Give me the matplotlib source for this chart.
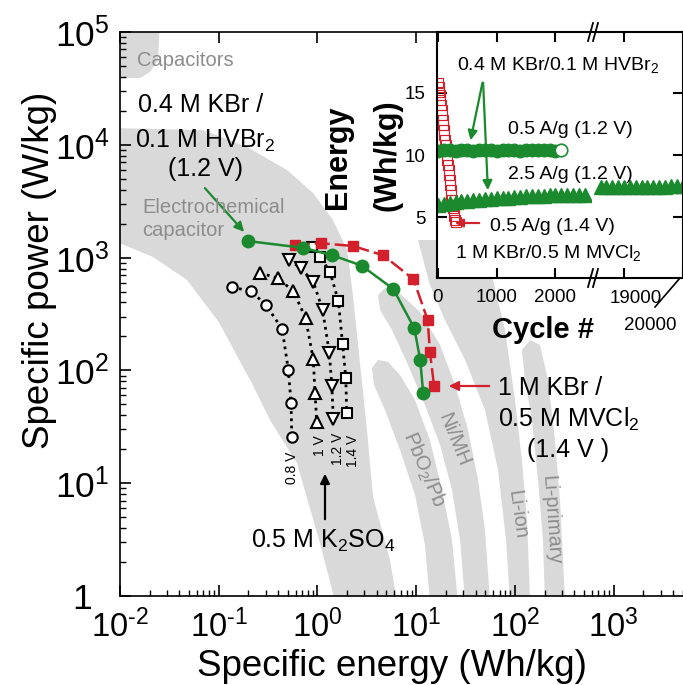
import numpy as np
import matplotlib
matplotlib.use('Agg')
import matplotlib.pyplot as plt
from matplotlib.lines import Line2D
from matplotlib.ticker import LogLocator, NullFormatter

plt.rcParams['font.family'] = ['Liberation Sans', 'DejaVu Sans']
plt.rcParams['mathtext.fontset'] = 'custom'
plt.rcParams['mathtext.rm'] = 'Liberation Sans'
plt.rcParams['mathtext.it'] = 'Liberation Sans:italic'
plt.rcParams['mathtext.bf'] = 'Liberation Sans:bold'

W, H = 683, 685

GREEN = '#1b8a2f'
RED = '#d2202c'
GRAY = '#d9d9d9'
GRAYTXT = '#8c8c8c'

# ---------------------------------------------------------------------------
# Ragone data: specific energy (Wh/kg) / specific power (W/kg)
# ---------------------------------------------------------------------------
hvbr_energy = [0.20, 0.72, 1.41, 2.80, 5.87, 9.6, 11.0, 11.8]
hvbr_power = [1400, 1220, 1050, 850, 527, 236, 124, 63]

mvcl_energy = [0.59, 1.10, 2.29, 4.65, 9.4, 13.1, 13.8, 15.2]
mvcl_power = [1306, 1339, 1267, 1048, 642, 280, 146, 73]

k2so4_08_energy = [0.136, 0.212, 0.301, 0.440, 0.507, 0.541, 0.550]
k2so4_08_power = [545, 506, 380, 233, 101, 51.7, 25.5]
k2so4_10_energy = [0.262, 0.396, 0.570, 0.760, 0.908, 0.946, 0.984]
k2so4_10_power = [735, 655, 506, 290, 125, 63.4, 35.1]
k2so4_12_energy = [0.519, 0.682, 0.908, 1.13, 1.32, 1.40, 1.45]
k2so4_12_power = [952, 804, 611, 343, 144, 72.8, 36.8]
k2so4_14_energy = [0.887, 1.06, 1.34, 1.63, 1.80, 1.94, 1.98]
k2so4_14_power = [1234, 1019, 750, 412, 170, 86, 42.2]

# background regions (outlines in Wh/kg, W/kg)
capacitor_e = [0.0079, 0.0254, 0.0243, 0.0201, 0.0160, 0.0079]
capacitor_p = [1.28e5, 1.28e5, 5.65e4, 4.42e4, 3.91e4, 3.91e4]

ec_e = [0.008, 0.0693, 0.194, 0.492, 0.902, 1.44, 2.0, 2.30, 2.70, 3.18, 3.66, 5.44, 6.4,
        1.51, 1.06, 0.621, 0.331, 0.222, 0.1, 0.0477, 0.0216, 0.008]
ec_p = [14100, 13500, 9550, 5980, 3740, 2150, 1170, 448, 116, 29.6, 7.55, 2.08, 0.9,
        0.9, 2.95, 15.1, 36.3, 74, 269, 633, 1012, 1450]

pb_e = [3.57, 4.11, 5.19, 6.87, 9.75, 13.8, 18.3, 23.1, 26.5, 13.8, 12.3, 9.75, 6.87, 4.84, 3.74]
pb_p = [105, 124, 119, 91, 54.7, 24.2, 8.71, 3.13, 0.9, 0.9, 2.83, 7.85, 19.7, 44.6, 74.3]

nimh_e = [4.11, 4.84, 6.56, 10.96, 17.5, 24.8, 33.6, 42.4, 49.9, 56.1,
          31.3, 27.9, 23.1, 17.5, 12.3, 8.28, 5.70, 4.31]
nimh_p = [466, 537, 495, 330, 168, 74.3, 29.6, 10.7, 3.85, 0.9,
          0.9, 3.13, 8.71, 21.8, 49.3, 112, 228, 343]

liion_e = [10.45, 35.2, 60.1, 79.6, 100.4, 118, 133, 143,
           89.4, 81.5, 67.6, 49.9, 31.3, 19.6, 13.8]
liion_p = [1432, 1432, 633, 228, 54.7, 16.1, 4.72, 0.9,
           0.9, 3.13, 13.1, 44.6, 124, 280, 571]

liprim_e = [118, 143, 180, 217, 255, 287, 308, 323, 202, 193, 172, 149, 127]
liprim_p = [152, 186, 168, 82.2, 24.2, 7.10, 2.08, 0.9, 0.9, 3.13, 10.7, 36.3, 82.2]

# ---------------------------------------------------------------------------
# Inset: cycling, energy (Wh/kg) vs cycle number
# ---------------------------------------------------------------------------
cyc_a = [0, 100, 200, 300, 400, 500, 600, 700, 800, 900, 1000, 1100,
         1200, 1300, 1400, 1500, 1600, 1700, 1800, 1900, 2000, 2100]
en_a = [10.3, 10.4, 10.4, 10.3, 10.4, 10.4, 10.3, 10.4, 10.4, 10.4, 10.3,
        10.4, 10.4, 10.4, 10.3, 10.4, 10.4, 10.4, 10.4, 10.4, 10.3, 10.4]

cyc_b = [0, 100, 200, 300, 400, 500, 600, 700, 800, 900, 1000, 1100, 1200,
         1300, 1400, 1500, 1600, 1700, 1800, 1900, 2000, 2100, 2200, 2300, 2400, 2500]
en_b = [5.95, 6.05, 6.12, 6.20, 6.26, 6.31, 6.35, 6.39, 6.42, 6.46, 6.50, 6.53, 6.56,
        6.60, 6.63, 6.66, 6.70, 6.72, 6.74, 6.76, 6.77, 6.78, 6.79, 6.80, 6.81, 6.82]
cyc_b2 = [18600, 18700, 18800, 18900, 19000, 19100, 19200, 19300, 19400,
          19500, 19600, 19700, 19800, 19900, 20000]
en_b2 = [7.40, 7.41, 7.41, 7.42, 7.43, 7.43, 7.44, 7.44, 7.45, 7.45,
         7.46, 7.46, 7.47, 7.47, 7.48]

cyc_c = [0, 10, 20, 30, 40, 50, 60, 70, 80, 90, 100, 110, 120, 130, 140, 150,
         160, 170, 180, 190, 200, 210, 220, 230, 240, 250, 260, 270, 280, 290, 300]
en_c = [15.8, 15.5, 15.1, 14.8, 14.4, 14.0, 13.6, 13.2, 12.8, 12.4, 12.0, 11.6,
        11.2, 10.8, 10.4, 10.0, 9.6, 9.2, 8.8, 8.4, 8.0, 7.6, 7.2, 6.8, 6.4,
        6.0, 5.7, 5.4, 5.1, 4.8, 4.6]


def fx(x):
    return x / W


def fy(y):
    return 1 - y / H


fig = plt.figure(figsize=(W / 100, H / 100), dpi=100)

# ---------------------------- main Ragone axes -----------------------------
ax = fig.add_axes([fx(120), fy(596), fx(W - 120), (596 - 32) / H])
ax.set_xscale('log')
ax.set_yscale('log')

for e, p in [(capacitor_e, capacitor_p), (ec_e, ec_p), (pb_e, pb_p),
             (nimh_e, nimh_p), (liion_e, liion_p), (liprim_e, liprim_p)]:
    ax.fill(e, p, color=GRAY, lw=0, zorder=0)

dot = (0, (1, 1.6))
ax.plot(k2so4_08_energy, k2so4_08_power, ls=dot, color='black', lw=2,
        marker='o', ms=7.5, mfc='white', mec='black', mew=1.5)
ax.plot(k2so4_10_energy, k2so4_10_power, ls=dot, color='black', lw=2,
        marker='^', ms=9, mfc='white', mec='black', mew=1.5)
ax.plot(k2so4_12_energy, k2so4_12_power, ls=dot, color='black', lw=2,
        marker='v', ms=9, mfc='white', mec='black', mew=1.5)
ax.plot(k2so4_14_energy, k2so4_14_power, ls=dot, color='black', lw=2,
        marker='s', ms=7.5, mfc='white', mec='black', mew=1.5)

ax.plot(mvcl_energy, mvcl_power, color=RED, lw=1.8, dashes=(6, 2),
        marker='s', ms=7.5, mfc=RED, mec=RED)
ax.plot(hvbr_energy, hvbr_power, color=GREEN, lw=1.8,
        marker='o', ms=9, mfc=GREEN, mec=GREEN)

ax.set_xlim(1e-2, 10 ** 3.704)
ax.set_ylim(1, 1e5)
ax.spines['right'].set_visible(False)
for s in ['left', 'bottom', 'top']:
    ax.spines[s].set_linewidth(1.2)

hy = '\u2010'
ax.set_xticks([1e-2, 1e-1, 1, 10, 100, 1000])
ax.set_xticklabels(['10$^{%s2}$' % hy, '10$^{%s1}$' % hy, '10$^{0}$', '10$^{1}$',
                    '10$^{2}$', '10$^{3}$'])
ax.set_yticks([1, 10, 100, 1e3, 1e4, 1e5])
ax.set_yticklabels(['1', '10$^{1}$', '10$^{2}$', '10$^{3}$', '10$^{4}$', '10$^{5}$'],
                   ha='center')
ax.xaxis.set_minor_locator(LogLocator(subs=np.arange(2, 10)))
ax.yaxis.set_minor_locator(LogLocator(subs=np.arange(2, 10)))
ax.xaxis.set_minor_formatter(NullFormatter())
ax.yaxis.set_minor_formatter(NullFormatter())
ax.tick_params(axis='x', which='major', direction='in', length=8, width=1.2,
               top=True, labelsize=23.5, pad=10)
ax.tick_params(axis='x', which='minor', direction='in', length=4, width=1.0)
ax.tick_params(axis='y', which='major', direction='in', length=8, width=1.2,
               labelsize=25.5, pad=27)
ax.tick_params(axis='y', which='minor', direction='in', length=4, width=1.0)

fig.text(fx(392), fy(676), 'Specific energy (Wh/kg)', fontsize=26.5,
         ha='center', va='baseline')
fig.text(fx(40), fy(270), 'Specific power (W/kg)', fontsize=26.5,
         ha='center', va='center', rotation=90)

# main-plot labels
fig.text(fx(137), fy(66), 'Capacitors', fontsize=14.5, color=GRAYTXT, va='baseline')
fig.text(fx(142), fy(213), 'Electrochemical', fontsize=14.5, color=GRAYTXT, va='baseline')
fig.text(fx(142), fy(236), 'capacitor', fontsize=14.5, color=GRAYTXT, va='baseline')

fig.text(fx(201), fy(112), '0.4 M KBr /', fontsize=18, ha='center', va='baseline')
fig.text(fx(205), fy(148), '0.1 M HVBr$_2$', fontsize=18, ha='center', va='baseline')
fig.text(fx(205), fy(176), '(1.2 V)', fontsize=18, ha='center', va='baseline')
ax.annotate('', xy=(fx(246), fy(234)), xytext=(fx(203), fy(186)),
            xycoords='figure fraction', textcoords='figure fraction',
            arrowprops=dict(arrowstyle='-|>', color=GREEN, lw=1.6, mutation_scale=14))

fig.text(fx(498), fy(395), '1 M KBr /', fontsize=18, va='baseline')
fig.text(fx(498), fy(427), '0.5 M MVCl$_2$', fontsize=18, va='baseline')
fig.text(fx(527), fy(457), '(1.4 V )', fontsize=18, va='baseline')
ax.annotate('', xy=(fx(446), fy(386)), xytext=(fx(492), fy(386)),
            xycoords='figure fraction', textcoords='figure fraction',
            arrowprops=dict(arrowstyle='-|>', color=RED, lw=1.6, mutation_scale=14))

fig.text(fx(323), fy(548), '0.5 M K$_2$SO$_4$', fontsize=18, ha='center', va='baseline')
ax.annotate('', xy=(fx(325), fy(471)), xytext=(fx(325), fy(522)),
            xycoords='figure fraction', textcoords='figure fraction',
            arrowprops=dict(arrowstyle='-|>', color='black', lw=1.6, mutation_scale=14))

for x, y, t in [(292, 468, '0.8 V'), (320, 446, '1 V'), (338, 449, '1.2 V'),
                (353, 451, '1.4 V')]:
    fig.text(fx(x), fy(y), t, fontsize=10, rotation=90, ha='center', va='center')

for x, y, t, r in [(424, 470, 'PbO$_2$/Pb', -67), (454, 440, 'Ni/MH', -68),
                   (517, 515, 'Li-ion', -82), (551, 520, 'Li-primary', -86)]:
    fig.text(fx(x), fy(y), t, fontsize=14.5, color=GRAYTXT, rotation=r,
             ha='center', va='center', rotation_mode='anchor')

# ------------------------------ cycling inset ------------------------------
iy0, iy1 = 278, 32
axL = fig.add_axes([fx(437), fy(iy0), fx(592 - 437), (iy0 - iy1) / H])
axR = fig.add_axes([fx(592), fy(iy0), fx(W - 592), (iy0 - iy1) / H])

axL.plot(cyc_c, en_c, ls='none', marker='s', ms=6.5, mfc='none', mec=RED, mew=0.8)
axL.plot(cyc_a[:-1], en_a[:-1], ls='none', marker='o', ms=9, mfc=GREEN, mec=GREEN)
axL.plot(cyc_a[-1:], en_a[-1:], ls='none', marker='o', ms=9, mfc='white', mec=GREEN, mew=1.2)
axL.plot(cyc_b, en_b, ls='none', marker='^', ms=10, mfc=GREEN, mec=GREEN)
axR.plot(cyc_b2, en_b2, ls='none', marker='^', ms=10, mfc=GREEN, mec=GREEN)

axL.set_xlim(-17, 2624)
axR.set_xlim(18455, 20005)
for a in (axL, axR):
    a.set_ylim(0.1, 19.9)
    a.set_yticks([5, 10, 15])
    for s in a.spines.values():
        s.set_linewidth(1.5)
    a.tick_params(direction='in', length=7, width=1.5, labelsize=13.5,
                  top=True, bottom=True)
axL.spines['right'].set_visible(False)
axR.spines['left'].set_visible(False)
axL.set_xticks([0, 1000, 2000])
axL.tick_params(axis='x', pad=8)
axL.tick_params(axis='y', pad=8, left=True, right=False)
axR.set_xticks([19000, 20000])
axR.set_xticklabels([])
axR.tick_params(axis='y', left=False, right=True, labelleft=False)

fig.text(fx(636), fy(298), '19000', fontsize=13.5, ha='center', va='center')
fig.text(fx(650), fy(325), '20000', fontsize=13.5, ha='center', va='center')
fig.add_artist(Line2D([fx(655), fx(680)], [fy(307), fy(278)], color='black', lw=1.2))
for yb in (32, 278):
    for dx in (0, 5):
        fig.add_artist(Line2D([fx(588 + dx), fx(593 + dx)], [fy(yb + 9), fy(yb - 9)],
                              color='black', lw=1.3))

fig.text(fx(338), fy(157), 'Energy', fontsize=22, fontweight='bold',
         rotation=90, ha='center', va='center')
fig.text(fx(387), fy(155), '(Wh/kg)', fontsize=22, fontweight='bold',
         rotation=90, ha='center', va='center')
fig.text(fx(543), fy(330), 'Cycle #', fontsize=21, fontweight='bold',
         ha='center', va='center')

fig.text(fx(457), fy(70), '0.4 M KBr/0.1 M HVBr$_2$', fontsize=14, va='baseline')
fig.text(fx(508), fy(134), '0.5 A/g (1.2 V)', fontsize=14, va='baseline')
fig.text(fx(508), fy(179), '2.5 A/g (1.2 V)', fontsize=14, va='baseline')
fig.text(fx(490), fy(231), '0.5 A/g (1.4 V)', fontsize=14, va='baseline')
fig.text(fx(455), fy(258), '1 M KBr/0.5 M MVCl$_2$', fontsize=14, va='baseline')

for tx, ty in [(470, 143), (488, 193)]:
    axL.annotate('', xy=(fx(tx), fy(ty)), xytext=(fx(483), fy(80)),
                 xycoords='figure fraction', textcoords='figure fraction',
                 arrowprops=dict(arrowstyle='-|>', color=GREEN, lw=1.6, mutation_scale=14))
axL.annotate('', xy=(fx(452), fy(223)), xytext=(fx(482), fy(223)),
             xycoords='figure fraction', textcoords='figure fraction',
             arrowprops=dict(arrowstyle='-|>', color=RED, lw=1.6, mutation_scale=12))

fig.savefig('out.png', dpi=100)
